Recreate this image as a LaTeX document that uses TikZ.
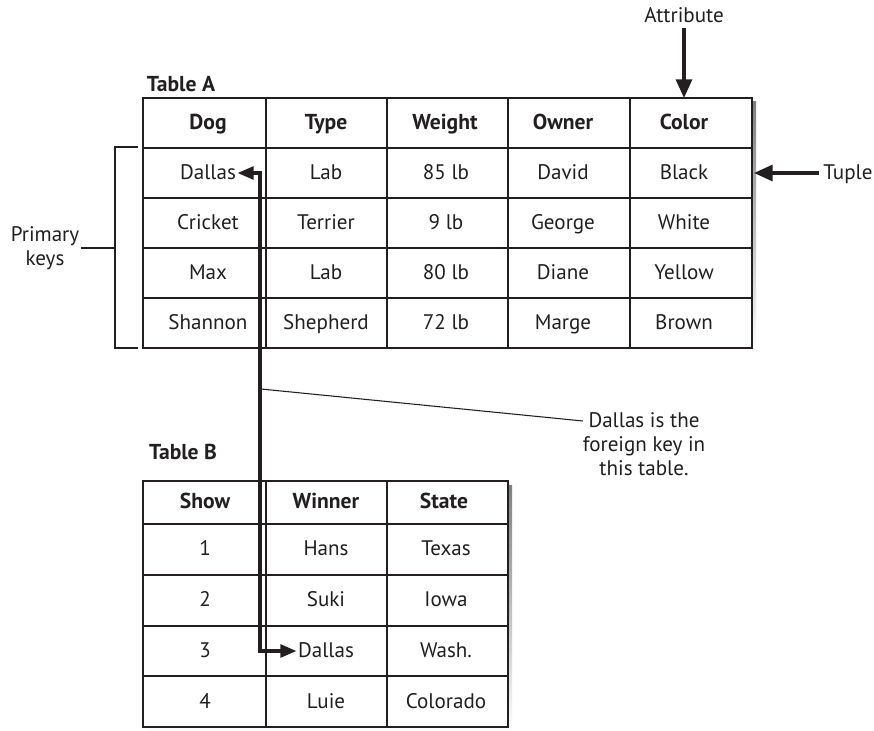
\documentclass[tikz,border=0pt]{standalone}
\usepackage{fontspec}
\setmainfont{PT Sans}
\usetikzlibrary{arrows.meta}
\definecolor{ink}{RGB}{35,31,32}
\definecolor{shade}{RGB}{185,185,185}
\begin{document}
\begin{tikzpicture}[x=0.75pt,y=-0.75pt,
  plain/.style={inner sep=1pt, text=ink, font=\fontsize{15.8}{18}\selectfont},
  txt/.style={plain, text height=13pt, text depth=3pt},
  hdr/.style={txt, font=\fontsize{16.2}{18}\selectfont\bfseries},
  gridline/.style={draw=ink, line width=1.1pt},
  conn/.style={draw=ink, line width=2.4pt},
  thin/.style={draw=ink, line width=0.8pt},
  fkhead/.style={{Triangle[length=12pt,width=9.5pt]}-{Triangle[length=12pt,width=9.5pt]}},
  bighead/.style={-{Triangle[length=14pt,width=12pt]}}]
\useasboundingbox (0,0) rectangle (874,731);
\fill[white] (0,0) rectangle (874,731);

% ---------- Table A ----------
\fill[shade] (147,102) rectangle (756,352);
\fill[white] (143,98) rectangle (752,348);
\draw[gridline] (143,98) rectangle (752,348);
\foreach \yy in {148,198,248,298} \draw[gridline] (143,\yy) -- (752,\yy);
\foreach \xx in {266,387,508,630} \draw[gridline] (\xx,98) -- (\xx,348);
\node[hdr] (labA) at (181,85) {Table A};

\foreach \t [count=\c] in {Dog,Type,Weight,Owner,Color}{
  \pgfmathsetmacro{\cx}{{208,326,445,563,684}[\c-1]}
  \node[hdr] (tA-0-\c) at (\cx,123) {\t};
}
\foreach \row [count=\r] in {{Dallas,Lab,85 lb,David,Black},{Cricket,Terrier,9 lb,George,White},{Max,Lab,80 lb,Diane,Yellow},{Shannon,Shepherd,72 lb,Marge,Brown}}{
  \pgfmathsetmacro{\cy}{123+50*\r}
  \foreach \t [count=\c] in \row {
    \pgfmathsetmacro{\cx}{{208,326,446,563,684}[\c-1]}
    \node[txt] (tA-\r-\c) at (\cx,\cy) {\t};
  }
}

% ---------- Table B ----------
\fill[shade] (147,485) rectangle (512,735);
\fill[white] (143,481) rectangle (508,727);
\draw[gridline] (143,481) rectangle (508,727);
\foreach \yy in {524,575,626,676} \draw[gridline] (143,\yy) -- (508,\yy);
\foreach \xx in {266,387} \draw[gridline] (\xx,481) -- (\xx,727);
\node[hdr] (labB) at (183,453) {Table B};

\foreach \t [count=\c] in {Show,Winner,State}{
  \pgfmathsetmacro{\cx}{{205,326,444}[\c-1]}
  \node[hdr] (tB-0-\c) at (\cx,502) {\t};
}
\foreach \row [count=\r] in {{1,Hans,Texas},{2,Suki,Iowa},{3,Dallas,Wash.},{4,Luie,Colorado}}{
  \pgfmathsetmacro{\cy}{{549,600,651,702}[\r-1]}
  \foreach \t [count=\c] in \row {
    \pgfmathsetmacro{\cx}{{205,326,446}[\c-1]}
    \node[txt] (tB-\r-\c) at (\cx,\cy) {\t};
  }
}

% ---------- foreign key connector ----------
\coordinate (fkBend) at (260,651);
\draw[conn, fkhead] (tA-1-1.east) -| (fkBend) -- (tB-3-2.west);

% callout
\coordinate (fkPoint) at (261,389);
\node[txt, inner sep=4pt] (fkA) at (644,421) {Dallas is the};
\node[txt] (fkB) at (644,445) {foreign key in};
\node[txt] (fkC) at (644,469) {this table.};
\draw[thin] (fkPoint) -- (fkA.west);

% ---------- Attribute ----------
\node[txt, inner sep=1pt] (attr) at (684,16) {Attribute};
\coordinate (colTop) at (684,98);
\draw[conn, bighead] (attr.south) -- (colTop);

% ---------- Tuple ----------
\node[txt, inner sep=3pt] (tuple) at (848,173) {Tuple};
\coordinate (rowEdge) at (754,173);
\draw[conn, bighead] (tuple.west) -- (rowEdge);

% ---------- Primary keys ----------
\node[plain, align=center] (pk) at (45,248) {Primary\\keys};
\coordinate (brMid) at (115,248);
\draw[thin] (138,147) -- (115,147) -- (115,348) -- (138,348);
\draw[thin] (pk.east) -- (brMid);
\end{tikzpicture}
\end{document}
